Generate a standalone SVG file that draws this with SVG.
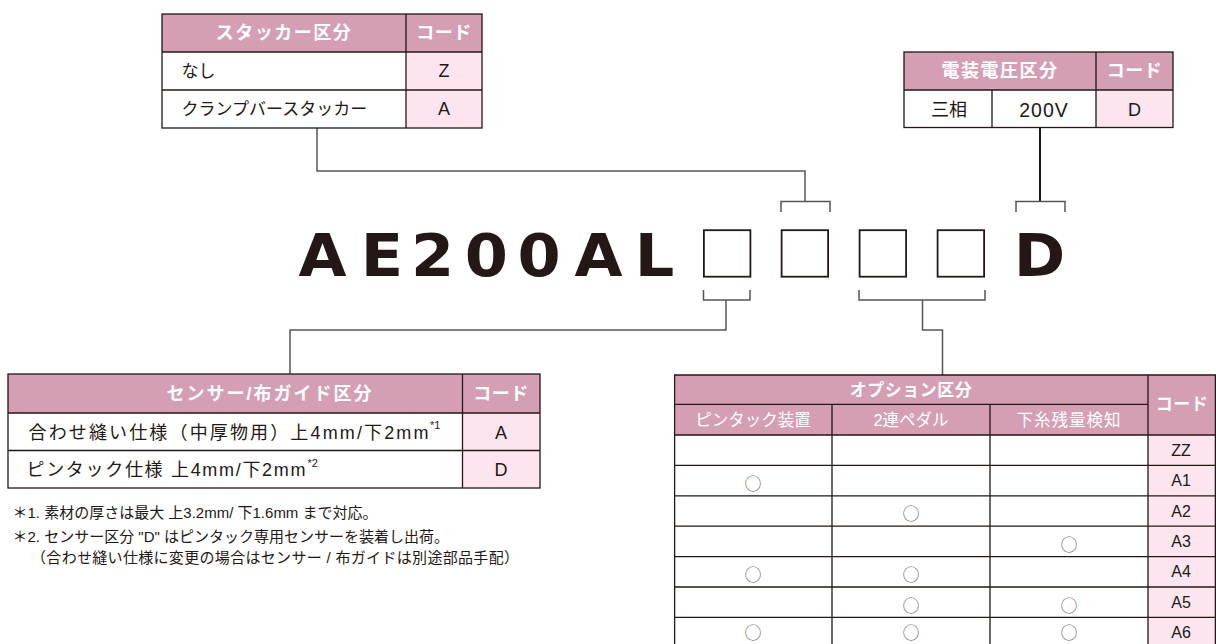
<svg xmlns="http://www.w3.org/2000/svg" width="1216" height="644" viewBox="0 0 1216 644">
<style>
.hdr{fill:#d49eb5}
.code{fill:#fce5ee}
.cell{fill:#ffffff}
.grid{stroke:#231815;stroke-width:1.3;fill:none}
.t{font-family:"Liberation Sans","Noto Sans CJK JP",sans-serif;fill:#231815;dominant-baseline:central;font-size:18px}
.m{text-anchor:middle}
.h{fill:#ffffff;font-weight:bold;letter-spacing:1.5px}
.hs{fill:#ffffff;font-size:16.5px}
.sm{font-size:16px}
.note{font-size:15px}
.sup{font-size:11px}
.conn{stroke:#555555;stroke-width:1.5;fill:none}
.connd{stroke:#231815;stroke-width:2;fill:none}
.box{fill:none;stroke:#231815;stroke-width:1.8}
.big{font-family:"DejaVu Sans",sans-serif;font-weight:bold;font-size:58px;fill:#231815;text-anchor:middle}
.ci{fill:#6e6e6e;font-family:"Noto Sans CJK JP",sans-serif;font-size:17px;text-anchor:middle;dominant-baseline:central}
</style>

<g id="connectors">
  <path class="conn" d="M317,128 V171 H805 V201.5"/>
  <path class="conn" d="M781,212 V201.5 H830 V212"/>
  <path class="connd" d="M1040,127.5 V201.5"/>
  <path class="conn" d="M1016,212 V201.5 H1065 V212"/>
  <path class="conn" d="M703.5,290 V300 H750 V290"/>
  <path class="conn" d="M726,300 V330 H290 V374"/>
  <path class="conn" d="M859,290 V300 H985 V290"/>
  <path class="conn" d="M922.5,300 V330 H942.5 V375"/>
</g>

<g id="stacker">
  <rect class="hdr" x="162" y="14" width="320" height="38"/>
  <rect class="cell" x="162" y="52" width="244" height="76"/>
  <rect class="code" x="406" y="52" width="76" height="76"/>
  <rect class="grid" x="162" y="14" width="320" height="114"/>
  <path class="grid" d="M162,52 H482 M162,90 H482 M406,14 V128"/>
  <text class="t m h" x="284" y="33">スタッカー区分</text>
  <text class="t m h" x="444" y="33" style="letter-spacing:0.5px">コード</text>
  <text class="t" x="181.5" y="71" style="font-size:17px">なし</text>
  <text class="t" x="181.5" y="109" style="font-size:17px">クランプバースタッカー</text>
  <text class="t m" x="444" y="71">Z</text>
  <text class="t m" x="444" y="109">A</text>
</g>

<g id="voltage">
  <rect class="hdr" x="904" y="52" width="269" height="38"/>
  <rect class="cell" x="904" y="90" width="192" height="37.5"/>
  <rect class="code" x="1096" y="90" width="77" height="37.5"/>
  <rect class="grid" x="904" y="52" width="269" height="75.5"/>
  <path class="grid" d="M904,90 H1173 M1096,52 V127.5 M992,90 V127.5"/>
  <text class="t m h" x="1000" y="71">電装電圧区分</text>
  <text class="t m h" x="1134.5" y="71" style="letter-spacing:0.5px">コード</text>
  <text class="t m" x="949" y="109.5">三相</text>
  <text class="t m" x="1044" y="109.5" style="font-size:19.5px;letter-spacing:1px">200V</text>
  <text class="t m" x="1134.5" y="109.5">D</text>
</g>

<g id="model">
  <text class="big" transform="scale(1.07,1)" x="301.5 357 404.3 454.6 503.9 559.3 611.7" y="276">AE200AL</text>
  <rect class="box" x="703.9" y="230.2" width="46.5" height="46.5"/>
  <rect class="box" x="781.6" y="230.2" width="46.5" height="46.5"/>
  <rect class="box" x="859.6" y="230.2" width="46.5" height="46.5"/>
  <rect class="box" x="937.6" y="230.2" width="46.5" height="46.5"/>
  <text class="big" transform="scale(1.07,1)" x="971.4" y="276">D</text>
</g>

<g id="sensor">
  <rect class="hdr" x="8" y="374" width="532" height="39"/>
  <rect class="cell" x="8" y="413" width="454.5" height="75"/>
  <rect class="code" x="462.5" y="413" width="77.5" height="75"/>
  <rect class="grid" x="8" y="374" width="532" height="114"/>
  <path class="grid" d="M8,413 H540 M8,450.5 H540 M462.5,374 V488"/>
  <text class="t m h" x="270" y="394" style="letter-spacing:2px">センサー/布ガイド区分</text>
  <text class="t m h" x="501" y="394" style="letter-spacing:0.5px">コード</text>
  <text class="t" x="28.5" y="432.5" textLength="400" lengthAdjust="spacing">合わせ縫い仕様（中厚物用）上4mm/下2mm</text>
  <text class="t sup" x="430" y="425">*1</text>
  <text class="t m" x="501" y="432.5">A</text>
  <text class="t" x="26.5" y="470" textLength="279" lengthAdjust="spacing">ピンタック仕様 上4mm/下2mm</text>
  <text class="t sup" x="307.5" y="463">*2</text>
  <text class="t m" x="501" y="470">D</text>
</g>

<g id="notes">
  <text class="t note" x="12.5" y="512">＊1. 素材の厚さは最大 上3.2mm/ 下1.6mm まで対応。</text>
  <text class="t note" x="12.5" y="536">＊2. センサー区分 "D" はピンタック専用センサーを装着し出荷。</text>
  <text class="t note" x="31" y="557" textLength="488" lengthAdjust="spacing">（合わせ縫い仕様に変更の場合はセンサー / 布ガイドは別途部品手配）</text>
</g>

<g id="options">
  <rect class="hdr" x="674" y="375" width="542" height="60"/>
  <rect class="cell" x="674" y="435" width="474" height="209"/>
  <rect class="code" x="1148" y="435" width="68" height="209"/>
  <path class="grid" d="M674.6,375 V644 M674,375 H1216 M1215.4,375 V644 M674,404.3 H1148 M674,435 H1216 M674,465.4 H1216 M674,495.8 H1216 M674,526.2 H1216 M674,556.6 H1216 M674,587 H1216 M674,617.4 H1216 M832,404.3 V644 M990,404.3 V644 M1148,375 V644"/>
  <text class="t m h" x="911" y="390" style="font-size:17px;letter-spacing:0.5px">オプション区分</text>
  <text class="t m h" x="1182" y="404" style="font-size:17px;letter-spacing:0.5px">コード</text>
  <text class="t m hs" x="753" y="420">ピンタック装置</text>
  <text class="t m hs" x="911" y="420">2連ペダル</text>
  <text class="t m hs" x="1069" y="420" style="letter-spacing:1px">下糸残量検知</text>
  <text class="t m sm" x="1181" y="450.2">ZZ</text>
  <text class="t m sm" x="1181" y="480.6">A1</text>
  <text class="t m sm" x="1181" y="511">A2</text>
  <text class="t m sm" x="1181" y="541.4">A3</text>
  <text class="t m sm" x="1181" y="571.8">A4</text>
  <text class="t m sm" x="1181" y="602.2">A5</text>
  <text class="t m sm" x="1181" y="632">A6</text>
  <text class="ci" x="753" y="482">○</text>
  <text class="ci" x="911" y="512.5">○</text>
  <text class="ci" x="1069" y="543">○</text>
  <text class="ci" x="753" y="573.5">○</text>
  <text class="ci" x="911" y="573.5">○</text>
  <text class="ci" x="911" y="604">○</text>
  <text class="ci" x="1069" y="604">○</text>
  <text class="ci" x="753" y="631">○</text>
  <text class="ci" x="911" y="631">○</text>
  <text class="ci" x="1069" y="631">○</text>
</g>
</svg>
